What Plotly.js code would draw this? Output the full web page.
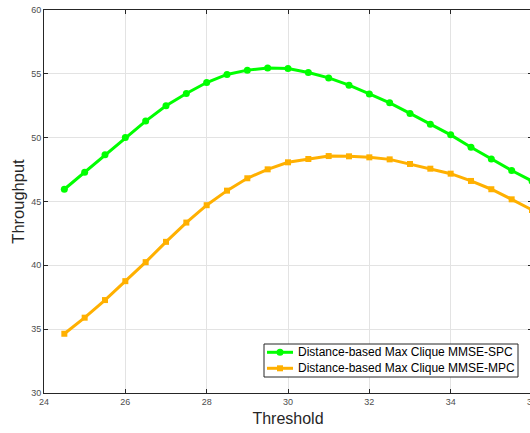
<!DOCTYPE html>
<html>
<head>
<meta charset="utf-8">
<script src="https://cdn.plot.ly/plotly-3.0.1.min.js"></script>
<style>
html,body{margin:0;padding:0;overflow:hidden;background:#fff;}
#chart{width:533px;height:433px;}
</style>
</head>
<body>
<div id="chart"></div>
<script>
const thresholds = [24.5,25,25.5,26,26.5,27,27.5,28,28.5,29,29.5,30,30.5,31,31.5,32,32.5,33,33.5,34,34.5,35,35.5,36];
const spcValues = [45.96,47.29,48.66,50.02,51.3,52.5,53.46,54.32,54.95,55.29,55.45,55.42,55.1,54.68,54.11,53.43,52.73,51.9,51.06,50.22,49.25,48.33,47.43,46.6];
const mpcValues = [34.64,35.9,37.28,38.76,40.25,41.84,43.35,44.71,45.85,46.82,47.52,48.07,48.33,48.56,48.54,48.46,48.3,47.94,47.57,47.18,46.61,45.96,45.17,44.34];
const seriesNames = ["Distance-based Max Clique MMSE-SPC","Distance-based Max Clique MMSE-MPC"];
const xTicks = [24,26,28,30,32,34,36];
const yTicks = [30,35,40,45,50,55,60];

const axisColor = '#262626';
const colors = ['#00FF00','#FFB000'];
const symbols = ['circle','square'];

const W = 533, H = 433, ML = 44, MR = 1, MT = 10, MB = 40;
const PW = W - ML - MR, PH = H - MT - MB;
const fx = px => (px - ML) / PW;
const fy = py => (H - MB - py) / PH;

const traces = seriesNames.map((name, i) => ({
  x: thresholds, y: i === 0 ? spcValues : mpcValues, name: name,
  type:'scatter', mode:'lines+markers', showlegend:false,
  line:{color:colors[i], width:3},
  marker:{symbol:symbols[i], size: i === 0 ? 7 : 6, color:colors[i]}
}));

// custom legend (MATLAB-style compact box)
const legBox = {x0:264, x1:518, y0:344, y1:377};
const rowY = [352.3, 368.3];
const shapes = [{
  type:'rect', xref:'paper', yref:'paper', layer:'above',
  x0:fx(legBox.x0), x1:fx(legBox.x1), y0:fy(legBox.y1), y1:fy(legBox.y0),
  fillcolor:'#fff', line:{color:axisColor, width:1}
}];
const annotations = [];
seriesNames.forEach((name, i) => {
  const cy = rowY[i];
  shapes.push({type:'line', xref:'paper', yref:'paper', layer:'above',
    x0:fx(267), x1:fx(293), y0:fy(cy), y1:fy(cy), line:{color:colors[i], width:3}});
  const r = i === 0 ? 3.5 : 3;
  shapes.push({type: i === 0 ? 'circle' : 'rect', xref:'paper', yref:'paper', layer:'above',
    x0:fx(280 - r), x1:fx(280 + r), y0:fy(cy + r), y1:fy(cy - r),
    fillcolor:colors[i], line:{color:colors[i], width:0}});
  annotations.push({xref:'paper', yref:'paper', x:fx(295.5), y:fy(cy),
    xanchor:'left', yanchor:'middle', showarrow:false, text:name,
    font:{family:'Liberation Sans, Arial, sans-serif', size:12, color:'#000'}});
});

const axisCommon = {
  showline:true, linecolor:axisColor, linewidth:1, mirror:'ticks',
  ticks:'inside', ticklen:4, tickcolor:axisColor, tickwidth:1,
  showgrid:true, gridcolor:'#e3e3e3', gridwidth:1, zeroline:false,
  tickfont:{family:'Liberation Sans, Arial, sans-serif', size:9, color:'#4d4d4d'}
};
const layout = {
  width:W, height:H,
  margin:{l:ML, r:MR, t:MT, b:MB},
  paper_bgcolor:'#fff', plot_bgcolor:'#fff',
  font:{family:'Liberation Sans, Arial, sans-serif'},
  xaxis: Object.assign({}, axisCommon, {
    range:[24,36], tickvals:xTicks, ticktext:xTicks.map(String), ticklabeloverflow:'allow',
    title:{text:'Threshold', font:{size:16, color:axisColor}, standoff:7}
  }),
  yaxis: Object.assign({}, axisCommon, {
    range:[30,60], tickvals:yTicks, ticktext:yTicks.map(String),
    title:{text:'Throughput', font:{size:16.5, color:axisColor}, standoff:2}
  }),
  showlegend:false,
  shapes: shapes,
  annotations: annotations
};
Plotly.newPlot('chart', traces, layout, {displayModeBar:false, staticPlot:true});
</script>
</body>
</html>
